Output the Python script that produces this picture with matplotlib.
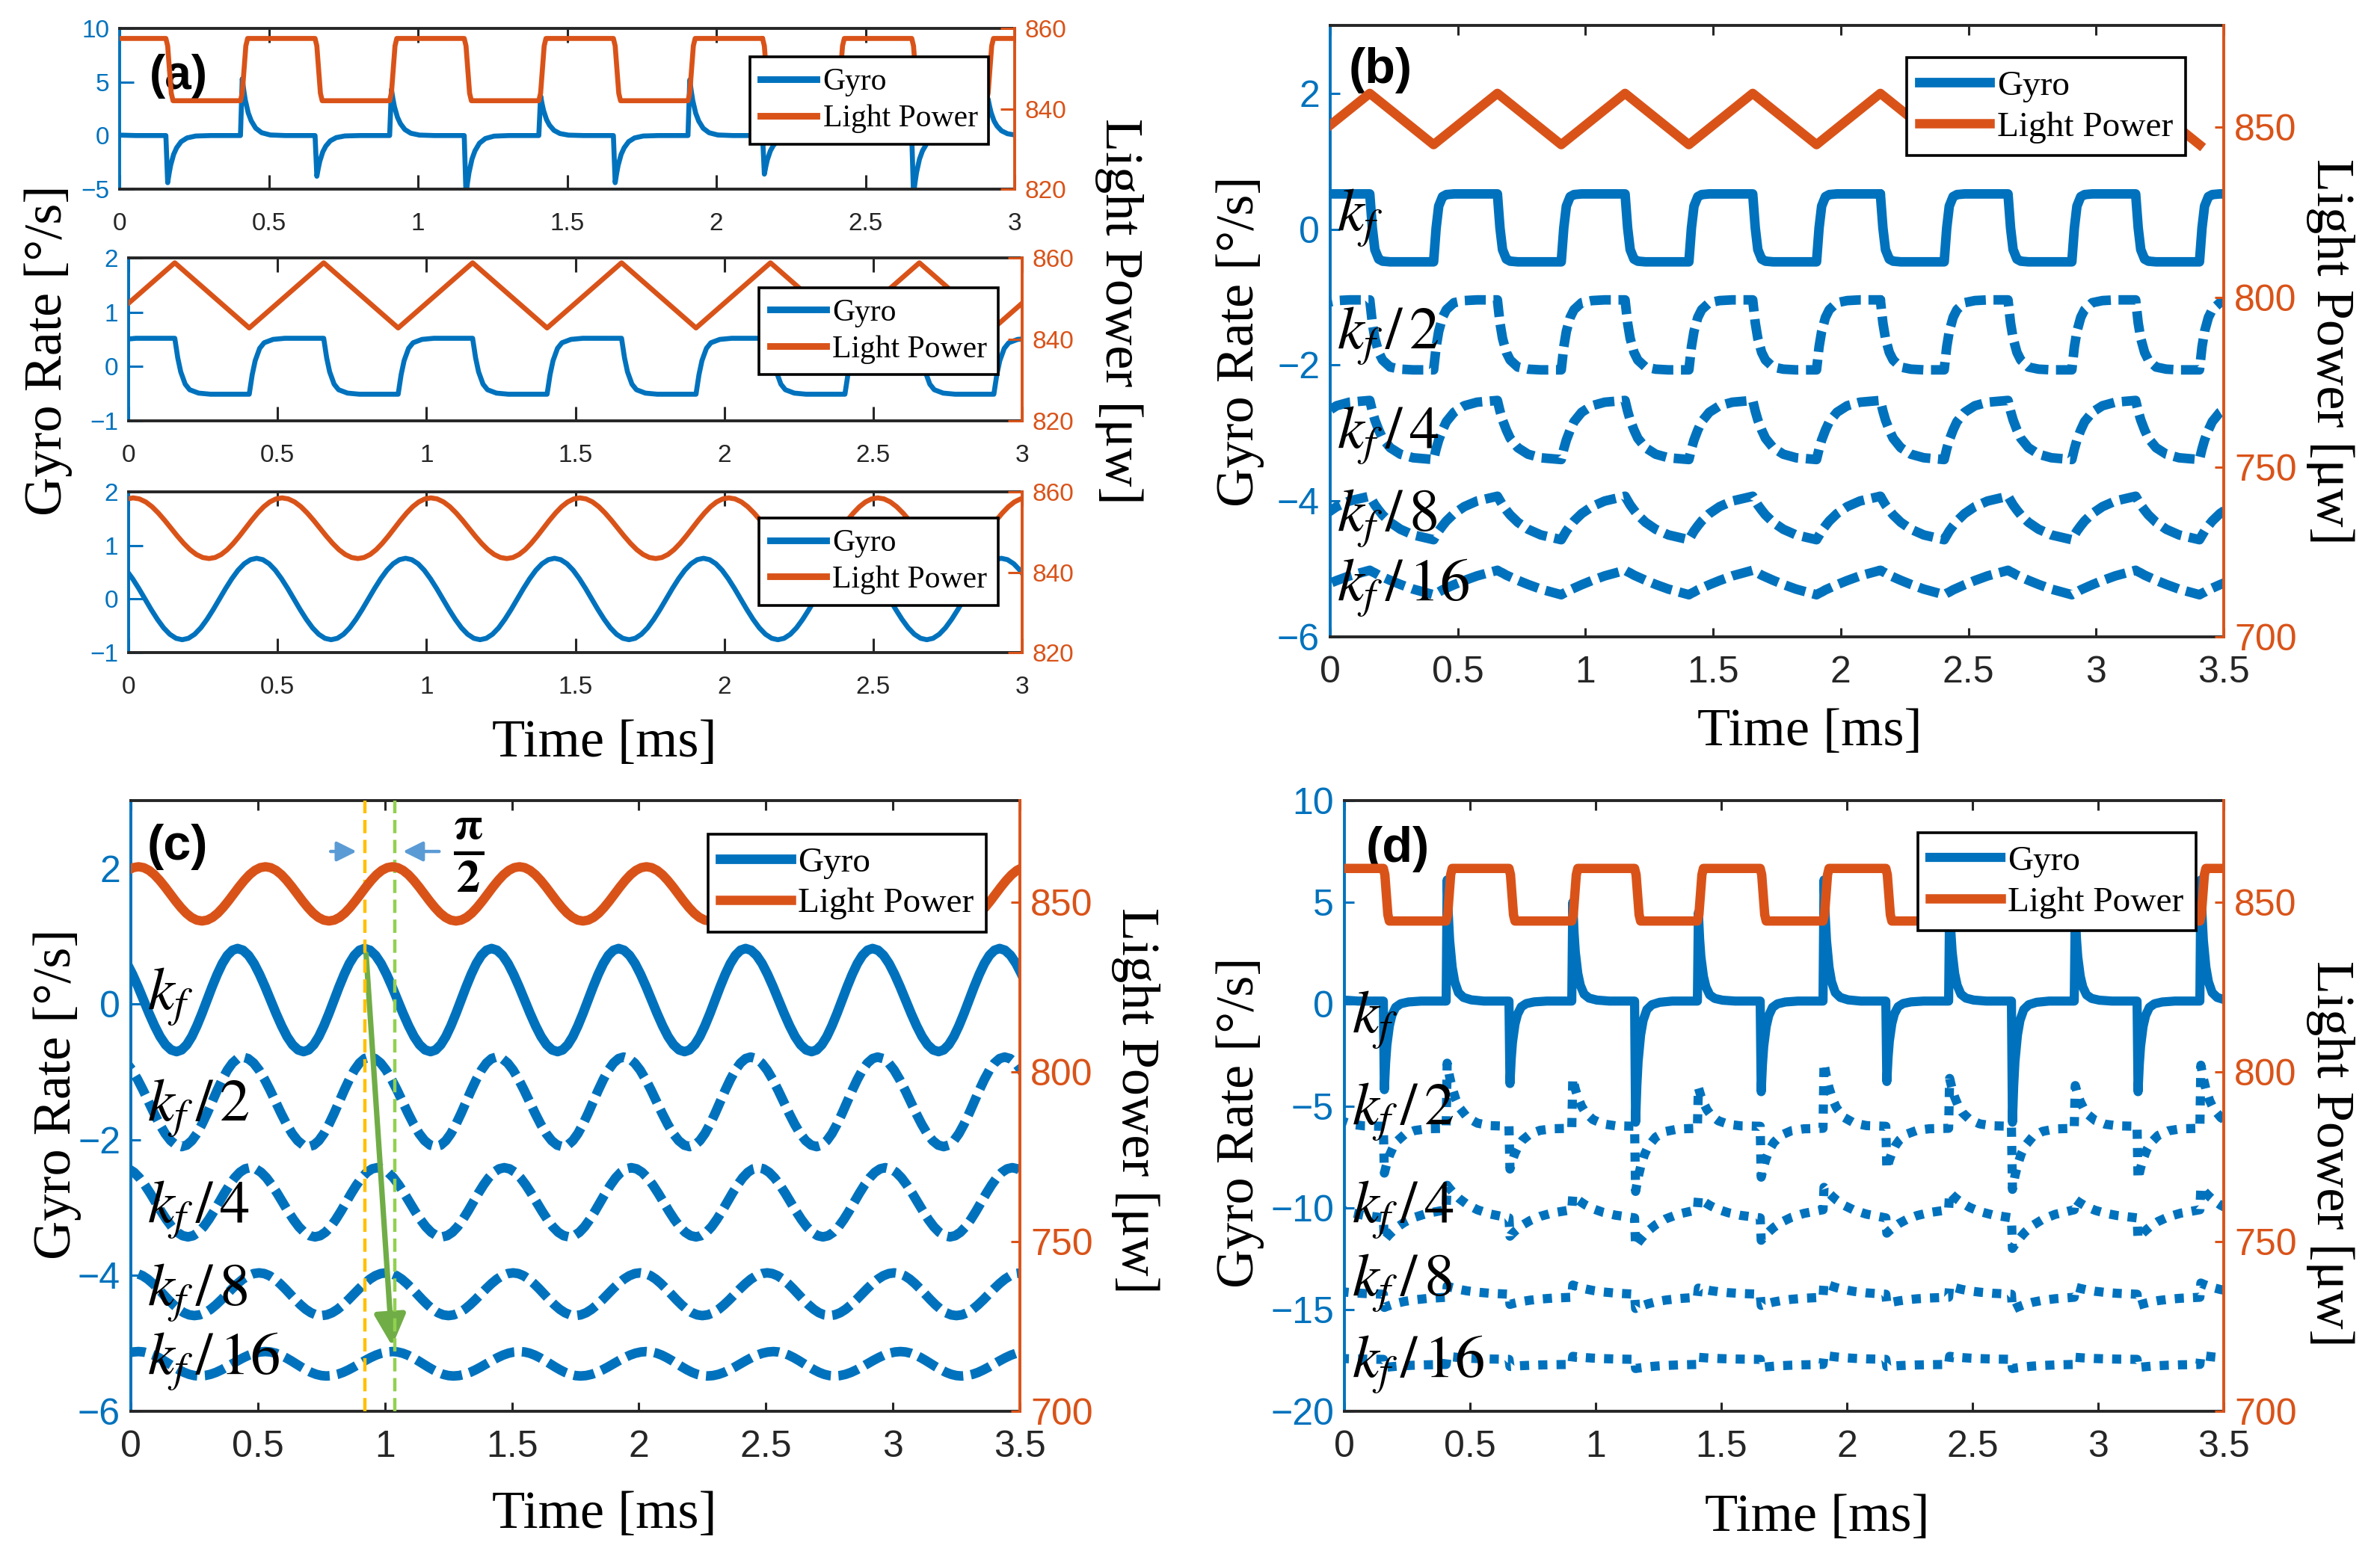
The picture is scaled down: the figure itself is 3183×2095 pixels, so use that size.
import numpy as np
import matplotlib
matplotlib.use('Agg')
import matplotlib.pyplot as plt
from matplotlib.lines import Line2D

W, H, DPI = 3183, 2095, 200
BLUE = '#0072BD'
ORANGE = '#D95319'
DARK = '#262626'
SERIF = 'Liberation Serif'
SANS = 'Liberation Sans'

plt.rcParams['font.family'] = SANS
plt.rcParams['mathtext.fontset'] = 'stix'

# ---------------- data ----------------
# light switching instants [ms]: R = light starts rising, F = light starts falling
switch_t = [-0.095, 0.155, 0.405, 0.655, 0.905, 1.155, 1.405, 1.655,
            1.905, 2.155, 2.405, 2.655, 2.905, 3.155, 3.405]
switch_kind = ['R', 'F', 'R', 'F', 'R', 'F', 'R', 'F',
               'R', 'F', 'R', 'F', 'R', 'F', 'R']

# (a) top: square light + gyro spikes
a1_light_hi, a1_light_lo = 857.5, 842.0
a1_gyro_peak = [3.7, -4.4, 5.3, -3.8, 4.3, -5.5, 3.7, -4.4,
                5.2, -3.6, 4.3, -5.5, 3.4, -4.4, 5.3]
a1_gyro_base = 0.0
# (a) middle: triangle light + square-ish gyro
a2_light_hi, a2_light_lo = 858.8, 842.8
a2_gyro_hi, a2_gyro_lo = 0.52, -0.51
# (a) bottom: sinusoidal light + gyro (extrema times and values)
a3_light_t = [-0.23, 0.015, 0.27, 0.515, 0.77, 1.015, 1.27, 1.515,
              1.77, 2.015, 2.27, 2.515, 2.77, 3.015]
a3_light_lo, a3_light_hi = 843.4, 858.5
a3_gyro_t = [-0.07, 0.18, 0.43, 0.68, 0.93, 1.18, 1.43, 1.68,
             1.93, 2.18, 2.43, 2.68, 2.93, 3.18]
a3_gyro_hi, a3_gyro_lo = 0.76, -0.76

# (b) triangle light, gyro for kf ... kf/16
b_light_hi, b_light_lo = 860.0, 844.9
b_levels = [(0.52, -0.48), (-1.04, -2.07), (-2.52, -3.39), (-3.93, -4.57), (-5.02, -5.38)]

# (c) sinusoidal light, gyro extrema
c_light_t = [-0.22, 0.03, 0.28, 0.53, 0.78, 1.03, 1.28, 1.53,
             1.78, 2.03, 2.28, 2.53, 2.78, 3.03, 3.28, 3.53]
c_light_lo, c_light_hi = 844.5, 860.5
c_kf_t = [-0.08, 0.18, 0.42, 0.68, 0.92, 1.18, 1.42, 1.68,
          1.92, 2.18, 2.42, 2.68, 2.92, 3.18, 3.42, 3.68]
c_kf2_t = [-0.06, 0.20, 0.44, 0.70, 0.94, 1.20, 1.44, 1.70,
           1.94, 2.20, 2.44, 2.70, 2.94, 3.20, 3.44, 3.70]
c_kf4_t = [-0.03, 0.225, 0.47, 0.725, 0.97, 1.225, 1.47, 1.725,
           1.97, 2.225, 2.47, 2.725, 2.97, 3.225, 3.47, 3.725]
c_kf8_t = [-0.25, 0.005, 0.25, 0.505, 0.75, 1.005, 1.25, 1.505,
           1.75, 2.005, 2.25, 2.505, 2.75, 3.005, 3.25, 3.505]
c_kf16_t = [-0.23, 0.03, 0.27, 0.53, 0.77, 1.03, 1.27, 1.53,
            1.77, 2.03, 2.27, 2.53, 2.77, 3.03, 3.27, 3.53]
# (first extremum value, second extremum value)
c_kf_v = (0.82, -0.70)
c_kf2_v = (-0.78, -2.10)
c_kf4_v = (-2.41, -3.43)
c_kf8_v = (-4.59, -3.96)
c_kf16_v = (-5.48, -5.12)
c_phase_t = [0.92, 1.04]   # yellow / green guide lines

# (d) square light, gyro spikes for kf ... kf/16
d_light_hi, d_light_lo = 860.0, 844.5
d_peaks = [
    [4.4, -4.2, 6.1, -3.9, 5.0, -5.8, 4.5, -4.3, 6.1, -3.8, 5.0, -5.8, 4.5, -4.3, 6.1],
    [-4.1, -8.3, -2.9, -8.1, -3.65, -9.2, -4.1, -8.5, -2.9, -8.1, -3.65, -9.1, -4.0, -8.6, -3.0],
    [-9.5, -11.6, -8.9, -11.4, -9.4, -11.9, -9.5, -11.6, -9.0, -11.25, -9.25, -12.0, -9.6, -11.5, -9.0],
    [-13.95, -14.9, -13.85, -14.75, -13.8, -14.95, -13.95, -14.8, -13.7, -14.7, -13.85, -15.0, -13.9, -14.8, -13.7],
    [-17.35, -17.85, -17.3, -17.8, -17.3, -17.9, -17.35, -17.85, -17.25, -17.8, -17.3, -17.9, -17.35, -17.85, -17.25],
]
# level reached at the end of each half period (after R, after F)
d_ends = [(0.15, 0.15), (-6.0, -6.1), (-10.5, -10.1), (-14.25, -14.4), (-17.45, -17.7)]

# settling shapes (fraction of the way done vs time since switch)
edge_dt = [0, 0.006, 0.012, 0.018, 0.024, 0.25]
edge_frac = [0, 0.12, 0.5, 0.88, 1, 1]
b_dt = [0, 0.01, 0.02, 0.035, 0.05, 0.08, 0.12, 0.17, 0.25]
a2_frac = [0, 0.35, 0.6, 0.82, 0.92, 0.98, 1, 1, 1]
b_fracs = [
    [0, 0.5, 0.82, 0.96, 0.99, 1, 1, 1, 1],
    [0, 0.33, 0.55, 0.75, 0.86, 0.96, 0.99, 1, 1],
    [0, 0.18, 0.33, 0.5, 0.64, 0.8, 0.91, 0.97, 1],
    [0, 0.1, 0.2, 0.32, 0.43, 0.6, 0.76, 0.89, 1],
    [0, 0.06, 0.11, 0.2, 0.27, 0.41, 0.58, 0.77, 1],
]
spike_dt = [0.006, 0.011, 0.016, 0.026, 0.036, 0.051, 0.071, 0.1, 0.15, 0.25]
a1_spike_frac = [0, 0.2, 0.37, 0.6, 0.74, 0.87, 0.95, 0.99, 1, 1]
d_spike_dt = [
    [0.004, 0.009, 0.014, 0.024, 0.034, 0.049, 0.069, 0.1, 0.15, 0.25],
    [0.004, 0.014, 0.024, 0.039, 0.054, 0.084, 0.124, 0.174, 0.25],
    [0.004, 0.014, 0.024, 0.039, 0.054, 0.084, 0.124, 0.174, 0.25],
    [0.004, 0.014, 0.024, 0.039, 0.054, 0.084, 0.124, 0.174, 0.25],
    [0.004, 0.014, 0.024, 0.039, 0.054, 0.084, 0.124, 0.174, 0.25],
]
d_spike_frac = [
    [0, 0.3, 0.5, 0.72, 0.84, 0.93, 0.97, 0.99, 1, 1],
    [0, 0.22, 0.39, 0.58, 0.71, 0.86, 0.95, 0.99, 1.0],
    [0, 0.1, 0.19, 0.31, 0.42, 0.59, 0.75, 0.88, 1.0],
    [0, 0.1, 0.19, 0.31, 0.42, 0.59, 0.75, 0.88, 1.0],
    [0, 0.1, 0.19, 0.31, 0.42, 0.59, 0.75, 0.88, 1.0],
]
# half-cycle shape between a maximum and a minimum of the sinusoidal traces
hw_f = [0, 0.083, 0.167, 0.25, 0.333, 0.417, 0.5, 0.583, 0.667, 0.75, 0.833, 0.917, 1.0]
hw_s = [0, 0.017, 0.067, 0.146, 0.25, 0.371, 0.5, 0.629, 0.75, 0.854, 0.933, 0.983, 1.0]

kf_labels = [r'$k_f$', r'$k_f\,/\,2$', r'$k_f\,/\,4$', r'$k_f\,/\,8$', r'$k_f\,/\,16$']
b_label_y = [-0.02, -1.75, -3.22, -4.44, -5.46]
c_label_y = [-0.08, -1.72, -3.22, -4.44, -5.45]
d_label_y = [-1.4, -5.9, -10.7, -14.3, -18.3]


# ---------------- helpers ----------------
def stitch(t_ev, v0, v1, dt, frac):
    t, v = [], []
    for te, a, b in zip(t_ev, v0, v1):
        for d, f in zip(dt, frac):
            t.append(te + d)
            v.append(a + (b - a) * f)
    return t, v


def two_level(hi, lo):
    v0 = [lo if k == 'R' else hi for k in switch_kind]
    v1 = [hi if k == 'R' else lo for k in switch_kind]
    return v0, v1


def ends_for(end_r, end_f):
    return [end_r if k == 'R' else end_f for k in switch_kind]


def light_vertices(hi, lo):
    return [lo if k == 'R' else hi for k in switch_kind]


def alternate(first, second, n):
    return [first if i % 2 == 0 else second for i in range(n)]


def through_extrema(t_ext, v_ext):
    t, v = [], []
    for i in range(len(t_ext) - 1):
        ta, tb, va, vb = t_ext[i], t_ext[i + 1], v_ext[i], v_ext[i + 1]
        for f, s in zip(hw_f, hw_s):
            t.append(ta + f * (tb - ta))
            v.append(va + s * (vb - va))
    return t, v


def fmt(v):
    return f'{v:g}'.replace('-', '\u2212')


fig = plt.figure(figsize=(W / DPI, H / DPI), dpi=DPI)


def px_rect(x0, y0, x1, y1):
    return [x0 / W, 1 - y1 / H, (x1 - x0) / W, (y1 - y0) / H]


def make_pair(rect, xlim, xt, yl, ytl, yr, ytr, fs, tl, padx, pady):
    ax = fig.add_axes(px_rect(*rect))
    tw = ax.twinx()
    ax.set_xlim(*xlim)
    ax.set_xticks(xt)
    ax.set_xticklabels([fmt(v) for v in xt])
    ax.set_ylim(*yl)
    ax.set_yticks(ytl)
    ax.set_yticklabels([fmt(v) for v in ytl])
    tw.set_ylim(*yr)
    tw.set_yticks(ytr)
    tw.set_yticklabels([fmt(v) for v in ytr])
    ax.tick_params(axis='x', direction='in', top=True, length=tl, width=1.1,
                   colors=DARK, labelsize=fs, pad=padx)
    ax.tick_params(axis='y', direction='in', length=tl, width=1.1,
                   colors=BLUE, labelsize=fs, pad=pady)
    tw.tick_params(axis='y', direction='in', length=tl, width=1.1,
                   colors=ORANGE, labelsize=fs, pad=pady)
    for s in ['top', 'bottom']:
        ax.spines[s].set_color(DARK)
        ax.spines[s].set_linewidth(1.4)
        tw.spines[s].set_visible(False)
    ax.spines['left'].set_color(BLUE)
    ax.spines['left'].set_linewidth(1.4)
    ax.spines['right'].set_visible(False)
    tw.spines['left'].set_visible(False)
    tw.spines['right'].set_color(ORANGE)
    tw.spines['right'].set_linewidth(1.4)
    return ax, tw


def add_legend(tw, handles, anchor, size, hlen):
    leg = tw.legend(handles=handles, labels=['Gyro', 'Light Power'], loc='upper right',
                    bbox_to_anchor=anchor, prop={'family': SERIF, 'size': size},
                    frameon=True, fancybox=False, edgecolor='black', framealpha=1,
                    borderaxespad=0, handlelength=hlen, handletextpad=0.2,
                    labelspacing=0.25, borderpad=0.35)
    leg.get_frame().set_linewidth(1.3)


def fig_text(x, y, s, size, rot=0):
    fig.text(x / W, 1 - y / H, s, fontsize=size, family=SERIF, rotation=rot,
             ha='center', va='center', color='black')


# ---------------- panel (a) ----------------
xa = (0, 3)
xta = [0, 0.5, 1, 1.5, 2, 2.5, 3]
ax1, tw1 = make_pair((160, 38, 1357, 253), xa, xta, (-5, 10), [-5, 0, 5, 10],
                     (820, 860), [820, 840, 860], 12, 7, 11, 5)
lv0, lv1 = two_level(a1_light_hi, a1_light_lo)
t, v = stitch(switch_t, lv0, lv1, edge_dt, edge_frac)
l_a1, = tw1.plot(t, v, color=ORANGE, lw=2.4)
t, v = stitch(switch_t, a1_gyro_peak, [a1_gyro_base] * len(switch_t), spike_dt, a1_spike_frac)
g_a1, = ax1.plot(t, v, color=BLUE, lw=2.4)
add_legend(tw1, [Line2D([], [], color=BLUE, lw=3.2), Line2D([], [], color=ORANGE, lw=3.2)],
           (0.971, 0.822), 15, 1.8)
ax1.text(0.033, 0.70, '(a)', transform=ax1.transAxes, fontsize=23, fontweight='bold',
         ha='left', va='center')

ax2, tw2 = make_pair((172, 345, 1367, 563), xa, xta, (-1, 2), [-1, 0, 1, 2],
                     (820, 860), [820, 840, 860], 12, 7, 11, 5)
tw2.plot(switch_t, light_vertices(a2_light_hi, a2_light_lo), color=ORANGE, lw=2.4)
gv0, gv1 = two_level(a2_gyro_hi, a2_gyro_lo)
t, v = stitch(switch_t, gv0, gv1, b_dt, a2_frac)
ax2.plot(t, v, color=BLUE, lw=2.4)
add_legend(tw2, [Line2D([], [], color=BLUE, lw=3.2), Line2D([], [], color=ORANGE, lw=3.2)],
           (0.973, 0.817), 15, 1.8)

ax3, tw3 = make_pair((172, 658, 1367, 873), xa, xta, (-1, 2), [-1, 0, 1, 2],
                     (820, 860), [820, 840, 860], 12, 7, 11, 5)
t, v = through_extrema(a3_light_t, alternate(a3_light_lo, a3_light_hi, len(a3_light_t)))
tw3.plot(t, v, color=ORANGE, lw=2.4)
t, v = through_extrema(a3_gyro_t, alternate(a3_gyro_hi, a3_gyro_lo, len(a3_gyro_t)))
ax3.plot(t, v, color=BLUE, lw=2.4)
add_legend(tw3, [Line2D([], [], color=BLUE, lw=3.2), Line2D([], [], color=ORANGE, lw=3.2)],
           (0.973, 0.837), 15, 1.8)

fig_text(65, 469, 'Gyro Rate [°/s]', 26, 90)
fig_text(1496, 416, 'Light Power [μw]', 26, 270)
fig_text(808, 995, 'Time [ms]', 26)

# ---------------- common for (b), (c), (d) ----------------
xb = (0, 3.5)
xtb = [0, 0.5, 1, 1.5, 2, 2.5, 3, 3.5]
dash = (0, (2.2, 0.8))
dot = (0, (1.0, 1.0))
line_styles = ['-', dash, dash, dash, dash]


def kf_labels_on(ax, x, ys):
    for s, y in zip(kf_labels, ys):
        ax.text(x, y, s, fontsize=29, ha='left', va='baseline', color='black', zorder=5)


# ---------------- panel (b) ----------------
axb, twb = make_pair((1779, 34, 2974, 852), xb, xtb, (-6, 3), [-6, -4, -2, 0, 2],
                     (700, 880), [700, 750, 800, 850], 18, 4.5, 9, 5)
l_b, = twb.plot(switch_t, light_vertices(b_light_hi, b_light_lo), color=ORANGE, lw=4.5)
handles = []
for (hi, lo), fr, ls in zip(b_levels, b_fracs, line_styles):
    v0, v1 = two_level(hi, lo)
    t, v = stitch(switch_t, v0, v1, b_dt, fr)
    h, = axb.plot(t, v, color=BLUE, lw=4.6, ls=ls, dash_capstyle='butt')
    handles.append(h)
add_legend(twb, [handles[0], l_b], (0.957, 0.947), 17, 2.0)
kf_labels_on(axb, 0.025, b_label_y)
axb.text(0.021, 0.927, '(b)', transform=axb.transAxes, fontsize=24, fontweight='bold',
         ha='left', va='center')
fig_text(1658, 457, 'Gyro Rate [°/s]', 26, 90)
fig_text(3116, 470, 'Light Power [μw]', 26, 270)
fig_text(2420, 980, 'Time [ms]', 26)

# ---------------- panel (c) ----------------
axc, twc = make_pair((175, 1071, 1364, 1888), xb, xtb, (-6, 3), [-6, -4, -2, 0, 2],
                     (700, 880), [700, 750, 800, 850], 18, 4.5, 9, 5)
t, v = through_extrema(c_light_t, alternate(c_light_lo, c_light_hi, len(c_light_t)))
l_c, = twc.plot(t, v, color=ORANGE, lw=4.5)
c_sets = [(c_kf_t, c_kf_v), (c_kf2_t, c_kf2_v), (c_kf4_t, c_kf4_v),
          (c_kf8_t, c_kf8_v), (c_kf16_t, c_kf16_v)]
handles = []
for (tt, vv), ls in zip(c_sets, line_styles):
    t, v = through_extrema(tt, alternate(vv[0], vv[1], len(tt)))
    h, = axc.plot(t, v, color=BLUE, lw=4.6, ls=ls, dash_capstyle='butt')
    handles.append(h)
add_legend(twc, [handles[0], l_c], (0.962, 0.945), 17, 2.0)
kf_labels_on(axc, 0.065, c_label_y)
axc.text(0.0185, 0.924, '(c)', transform=axc.transAxes, fontsize=24, fontweight='bold',
         ha='left', va='center')
axc.axvline(c_phase_t[0], color='#FFC000', ls=(0, (4, 2)), lw=1.6, zorder=4)
axc.axvline(c_phase_t[1], color='#92D050', ls=(0, (4, 2)), lw=1.6, zorder=4)
axc.annotate('', xy=(1.03, -5.1), xytext=(0.925, 0.8),
             arrowprops=dict(arrowstyle='-|>', color='#70AD47', lw=2.6, mutation_scale=32))
axc.annotate('', xy=(0.905, 2.25), xytext=(0.77, 2.25),
             arrowprops=dict(arrowstyle='-|>', color='#5B9BD5', lw=1.6, mutation_scale=20))
axc.annotate('', xy=(1.055, 2.25), xytext=(1.23, 2.25),
             arrowprops=dict(arrowstyle='-|>', color='#5B9BD5', lw=1.6, mutation_scale=20))
axc.text(1.33, 2.2, r'$\mathbf{\frac{\pi}{2}}$', fontsize=32, ha='center', va='center',
         color='black')
fig_text(77, 1464, 'Gyro Rate [°/s]', 26, 90)
fig_text(1518, 1472, 'Light Power [μw]', 26, 270)
fig_text(808, 2026, 'Time [ms]', 26)

# ---------------- panel (d) ----------------
axd, twd = make_pair((1798, 1071, 2974, 1888), xb, xtb, (-20, 10), [-20, -15, -10, -5, 0, 5, 10],
                     (700, 880), [700, 750, 800, 850], 18, 4.5, 9, 5)
lv0, lv1 = two_level(d_light_hi, d_light_lo)
t, v = stitch(switch_t, lv0, lv1, edge_dt, edge_frac)
l_d, = twd.plot(t, v, color=ORANGE, lw=4.5)
handles = []
for i, (pk, (er, ef)) in enumerate(zip(d_peaks, d_ends)):
    t, v = stitch(switch_t, pk, ends_for(er, ef), d_spike_dt[i], d_spike_frac[i])
    h, = axd.plot(t, v, color=BLUE, lw=4.4, ls='-' if i == 0 else dot, dash_capstyle='butt')
    handles.append(h)
add_legend(twd, [handles[0], l_d], (0.9685, 0.947), 17, 2.0)
kf_labels_on(axd, 0.03, d_label_y)
axd.text(0.024, 0.92, '(d)', transform=axd.transAxes, fontsize=24, fontweight='bold',
         ha='left', va='center')
fig_text(1658, 1502, 'Gyro Rate [°/s]', 26, 90)
fig_text(3116, 1543, 'Light Power [μw]', 26, 270)
fig_text(2430, 2030, 'Time [ms]', 26)

fig.savefig('out.png', dpi=DPI)
